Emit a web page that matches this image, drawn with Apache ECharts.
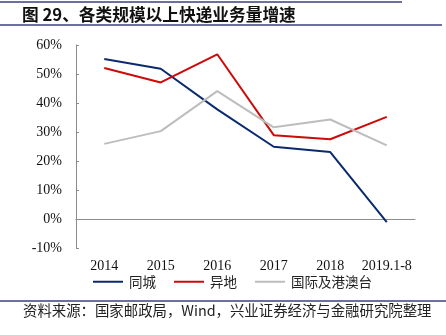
<!DOCTYPE html>
<html><head><meta charset="utf-8">
<script src="https://cdn.jsdelivr.net/npm/echarts@6/dist/echarts.min.js"></script>
<style>html,body{margin:0;padding:0;background:#fff}#c{width:446px;height:335px}</style>
</head><body><div id="c"></div>
<script>
var categories = ['2014','2015','2016','2017','2018','2019.1-8'];
var sameCity = [55.2, 51.8, 37.8, 24.9, 23.1, -1.1];
var interCity = [52.1, 47.1, 56.8, 28.9, 27.5, 35.2];
var international = [25.9, 30.3, 44.1, 31.6, 34.3, 25.4];
var seriesNames = ['同城', '异地', '国际及港澳台'];
var titleText = '图 29、各类规模以上快递业务量增速';
var sourceText = '资料来源：国家邮政局，Wind，兴业证券经济与金融研究院整理';

var chart = echarts.init(document.getElementById('c'), null, {renderer:'canvas'});
var axisColor = '#8c8c8c';
var serif = '"Liberation Serif","Times New Roman",serif';
var cjk = '"Noto Sans CJK SC",sans-serif';
chart.setOption({
  animation:false,
  backgroundColor:'#fff',
  grid:{left:76, right:31, top:45, bottom:87, containLabel:false},
  legend:{
    left:88, top:270, itemWidth:30, itemHeight:14, itemGap:18,
    icon:'path://M0,0 L30,0 L30,2 L0,2 Z',
    textStyle:{fontFamily:cjk, fontSize:13.5, color:'#222', padding:[0,0,0,1]},
    data:seriesNames
  },
  xAxis:{
    type:'category', data:categories, boundaryGap:true,
    axisLine:{lineStyle:{color:axisColor, width:1}},
    axisTick:{inside:true, length:4, lineStyle:{color:axisColor}},
    axisLabel:{fontFamily:serif, fontSize:14, color:'#111', margin:11, interval:0}
  },
  yAxis:{
    type:'value', min:-10, max:60, interval:10,
    splitLine:{show:false},
    axisLine:{show:true, lineStyle:{color:axisColor, width:1}},
    axisTick:{show:true, inside:true, length:3, lineStyle:{color:axisColor}},
    axisLabel:{fontFamily:serif, fontSize:14, color:'#111', margin:14, formatter:'{value}%'}
  },
  series:[
    {name:seriesNames[0], type:'line', data:sameCity, symbol:'none', lineStyle:{color:'#0b2a6e', width:2}, itemStyle:{color:'#0b2a6e'}},
    {name:seriesNames[1], type:'line', data:interCity, symbol:'none', lineStyle:{color:'#cc0a0a', width:2}, itemStyle:{color:'#cc0a0a'}},
    {name:seriesNames[2], type:'line', data:international, symbol:'none', lineStyle:{color:'#bdbdbd', width:2}, itemStyle:{color:'#bdbdbd'}}
  ],
  graphic:[
    {type:'line', shape:{x1:0,y1:2,x2:402,y2:2}, style:{stroke:'#3c3f86', lineWidth:1.5}},
    {type:'text', left:22, top:6, style:{text:titleText, font:'bold 16.7px '+cjk, fill:'#111'}},
    {type:'line', shape:{x1:0,y1:25,x2:442,y2:25}, style:{stroke:'#3c3f86', lineWidth:1.5}},
    {type:'line', shape:{x1:0,y1:301,x2:446,y2:301}, style:{stroke:'#3c3f86', lineWidth:1.5}},
    {type:'text', left:23, top:303, style:{text:sourceText, font:'14.4px '+cjk, fill:'#222'}}
  ]
});
</script></body></html>
